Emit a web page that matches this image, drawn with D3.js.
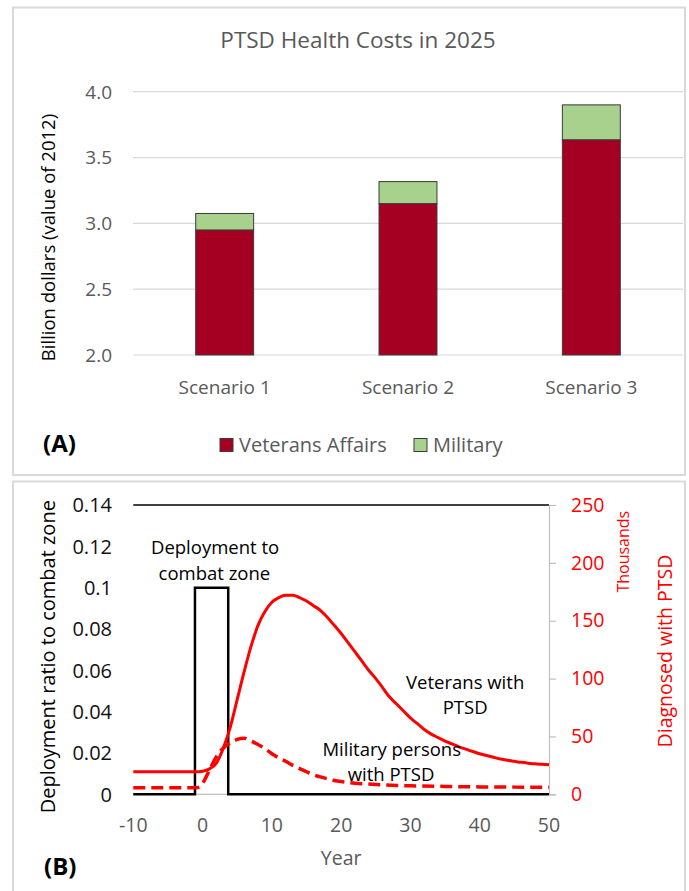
<!DOCTYPE html>
<html>
<head>
<meta charset="utf-8">
<script src="https://cdn.jsdelivr.net/npm/d3@7"></script>
<style>
  html, body { margin: 0; padding: 0; background: #fff; }
  svg { display: block; font-family: "Open Sans", sans-serif; }
</style>
</head>
<body>
<svg id="chart" width="689" height="891"></svg>
<script>
// ---------- Panel A data ----------
const scenarios = ["Scenario 1", "Scenario 2", "Scenario 3"];
const veteransAffairs = [2.95, 3.15, 3.635];
const military = [0.125, 0.167, 0.265];
const costTicks = [2.0, 2.5, 3.0, 3.5, 4.0];
const costTickLabels = ["2.0", "2.5", "3.0", "3.5", "4.0"];
const legendLabels = ["Veterans Affairs", "Military"];

// ---------- Panel B data ----------
const deployYears = [-10, -1.1, -1.1, 3.7, 3.7, 50];
const deployRatio = [0, 0, 0.1, 0.1, 0, 0];

const vetYears = [-10, -5, -1, 0, 1, 2, 3, 4, 5, 6, 7, 8, 9, 10, 11, 12, 13, 14, 15, 16, 17, 18, 19, 20, 21, 22, 23, 24, 25, 26, 27, 28, 29, 30, 31, 32, 33, 34, 35, 36, 37, 38, 39, 40, 41, 42, 43, 44, 45, 46, 47, 48, 49, 50];
const vetPTSD = [19.5, 19.5, 19.5, 20, 22, 27, 40, 58, 82, 106, 128, 146, 158, 166, 170, 172, 172, 170, 167, 163, 159, 153, 146, 139, 131, 123, 115, 107, 100, 92, 84, 78, 72, 66, 61, 56, 52, 49, 46, 43.5, 41, 39, 37, 35, 33.5, 32, 30.5, 29.4, 28.5, 27.6, 26.9, 26.3, 25.9, 25.5];

const milYears = [-10, -5, -1, -0.5, 0, 1, 2, 3, 4, 5, 6, 7, 8, 9, 10, 11, 12, 13, 14, 15, 16, 17, 18, 19, 20, 21, 22, 24, 26, 28, 30, 35, 40, 45, 50];
const milPTSD = [5.7, 5.7, 5.7, 6.3, 9.5, 21, 32.5, 40, 44.5, 47.5, 48.5, 46, 43, 39.5, 35, 31.5, 28.5, 25, 22.2, 19.5, 17, 15, 13.5, 12, 11, 10.3, 9.6, 8.8, 8.2, 7.7, 7.3, 6.8, 6.4, 6.2, 6.0];

const yearTicks = [-10, 0, 10, 20, 30, 40, 50];
const ratioTicks = [0, 0.02, 0.04, 0.06, 0.08, 0.1, 0.12, 0.14];
const ratioTickLabels = ["0", "0.02", "0.04", "0.06", "0.08", "0.1", "0.12", "0.14"];
const thousandTicks = [0, 50, 100, 150, 200, 250];

const svg = d3.select("#chart");
const GRAY = "#595959";
const RED_BAR = "#a50021";
const GREEN_BAR = "#a9d18e";
const RED = "#ff0000";

// ================= PANEL A =================
svg.append("rect").attr("x", 13).attr("y", 7.5).attr("width", 672).attr("height", 467.5)
  .attr("fill", "#fff").attr("stroke", "#d9d9d9").attr("stroke-width", 2);

const gA = svg.append("g");
const xA = d3.scaleBand().domain(scenarios).range([133, 683]).paddingInner(0.684).paddingOuter(0.342);
const yA = d3.scaleLinear().domain([2, 4]).range([355, 91.7]);

// gridlines
gA.append("g").selectAll("line").data(costTicks).join("line")
  .attr("x1", 133).attr("x2", 683)
  .attr("y1", d => yA(d)).attr("y2", d => yA(d))
  .attr("stroke", "#d9d9d9").attr("stroke-width", 1.2);

// y tick labels
gA.append("g").selectAll("text").data(costTicks).join("text")
  .attr("x", 112).attr("y", d => yA(d)).attr("dy", "0.36em")
  .attr("text-anchor", "end").attr("fill", GRAY).attr("font-size", 19)
  .text((d, i) => costTickLabels[i]);

// bars
const stackData = scenarios.map((s, i) => ({ s, va: veteransAffairs[i], mil: military[i] }));
gA.append("g").selectAll("rect.va").data(stackData).join("rect")
  .attr("x", d => xA(d.s)).attr("width", xA.bandwidth())
  .attr("y", d => yA(d.va)).attr("height", d => yA(2) - yA(d.va))
  .attr("fill", RED_BAR).attr("stroke", "#3a3a3a").attr("stroke-width", 1);
gA.append("g").selectAll("rect.mil").data(stackData).join("rect")
  .attr("x", d => xA(d.s)).attr("width", xA.bandwidth())
  .attr("y", d => yA(d.va + d.mil)).attr("height", d => yA(d.va) - yA(d.va + d.mil))
  .attr("fill", GREEN_BAR).attr("stroke", "#3a3a3a").attr("stroke-width", 1);

// category labels
gA.append("g").selectAll("text").data(scenarios).join("text")
  .attr("x", d => xA(d) + xA.bandwidth() / 2).attr("y", 387).attr("dy", "0.36em")
  .attr("text-anchor", "middle").attr("fill", GRAY).attr("font-size", 19)
  .text(d => d);

// title
svg.append("text").attr("x", 358).attr("y", 48).attr("text-anchor", "middle")
  .attr("fill", GRAY).attr("font-size", 22.5).text("PTSD Health Costs in 2025");

// y title
svg.append("text").attr("transform", "translate(48,237.5) rotate(-90)")
  .attr("text-anchor", "middle").attr("dy", "0.36em").attr("fill", "#000")
  .attr("font-size", 18.5).text("Billion dollars (value of 2012)");

// legend
const legendX = [220, 414];
const legendColors = [RED_BAR, GREEN_BAR];
legendLabels.forEach((lab, i) => {
  svg.append("rect").attr("x", legendX[i]).attr("y", 438.5).attr("width", 13).attr("height", 13)
    .attr("fill", legendColors[i]).attr("stroke", "#3a3a3a").attr("stroke-width", 1);
  svg.append("text").attr("x", legendX[i] + 19).attr("y", 445).attr("dy", "0.36em")
    .attr("fill", GRAY).attr("font-size", 20).text(lab);
});

svg.append("text").attr("x", 43).attr("y", 443).attr("dy", "0.36em")
  .attr("font-weight", "bold").attr("font-size", 24).attr("fill", "#000").text("(A)");

// ================= PANEL B =================
svg.append("rect").attr("x", 13).attr("y", 481.5).attr("width", 672).attr("height", 420)
  .attr("fill", "#fff").attr("stroke", "#d9d9d9").attr("stroke-width", 2);

const gB = svg.append("g");
const xB = d3.scaleLinear().domain([-10, 50]).range([133.3, 549]);
const yL = d3.scaleLinear().domain([0, 0.14]).range([794.3, 505]);
const yR = d3.scaleLinear().domain([0, 250]).range([794.3, 505]);

// top border line
gB.append("line").attr("x1", xB(-10)).attr("x2", xB(50)).attr("y1", yL(0.14)).attr("y2", yL(0.14))
  .attr("stroke", "#000").attr("stroke-width", 1.3);
// x axis line (gray)
gB.append("line").attr("x1", xB(-10)).attr("x2", xB(50)).attr("y1", yL(0)).attr("y2", yL(0))
  .attr("stroke", "#bfbfbf").attr("stroke-width", 1.2);

// right axis
const rightAxis = d3.axisRight(yR).tickValues(thousandTicks).tickSize(7).tickPadding(15).tickFormat(d3.format("d"));
const gRight = gB.append("g").attr("transform", `translate(${xB(50)},0)`).call(rightAxis);
gRight.select(".domain").attr("stroke", "#bfbfbf").attr("stroke-width", 1.2);
gRight.selectAll(".tick line").attr("stroke", "#bfbfbf").attr("stroke-width", 1.2);
gRight.selectAll(".tick text").attr("fill", RED).attr("font-size", 19.5)
  .attr("font-family", "Open Sans, sans-serif");

// left tick labels
gB.append("g").selectAll("text").data(ratioTicks).join("text")
  .attr("x", 112).attr("y", d => yL(d)).attr("dy", "0.36em")
  .attr("text-anchor", "end").attr("fill", "#111").attr("font-size", 20)
  .text((d, i) => ratioTickLabels[i]);

// x tick labels
gB.append("g").selectAll("text").data(yearTicks).join("text")
  .attr("x", d => xB(d)).attr("y", 825).attr("dy", "0.36em")
  .attr("text-anchor", "middle").attr("fill", GRAY).attr("font-size", 19.5)
  .text(d => d);

// axis titles
svg.append("text").attr("x", (xB(-10) + xB(50)) / 2).attr("y", 858).attr("dy", "0.36em")
  .attr("text-anchor", "middle").attr("fill", GRAY).attr("font-size", 19.5).text("Year");
svg.append("text").attr("transform", "translate(48,656.7) rotate(-90)")
  .attr("text-anchor", "middle").attr("dy", "0.36em").attr("fill", "#000")
  .attr("font-size", 20).text("Deployment ratio to combat zone");
svg.append("text").attr("transform", "translate(623,551.7) rotate(-90)")
  .attr("text-anchor", "middle").attr("dy", "0.36em").attr("fill", RED)
  .attr("font-size", 16).text("Thousands");
svg.append("text").attr("transform", "translate(665,651) rotate(-90)")
  .attr("text-anchor", "middle").attr("dy", "0.36em").attr("fill", RED)
  .attr("font-size", 19.5).text("Diagnosed with PTSD");

// series
const deploy = deployYears.map((y, i) => [y, deployRatio[i]]);
gB.append("path").datum(deploy)
  .attr("d", d3.line().x(d => xB(d[0])).y(d => yL(d[1])))
  .attr("fill", "none").attr("stroke", "#000").attr("stroke-width", 2.5);

const vet = vetYears.map((y, i) => [y, vetPTSD[i]]);
gB.append("path").datum(vet)
  .attr("d", d3.line().curve(d3.curveMonotoneX).x(d => xB(d[0])).y(d => yR(d[1])))
  .attr("fill", "none").attr("stroke", RED).attr("stroke-width", 3);

const mil = milYears.map((y, i) => [y, milPTSD[i]]);
gB.append("path").datum(mil)
  .attr("d", d3.line().curve(d3.curveMonotoneX).x(d => xB(d[0])).y(d => yR(d[1])))
  .attr("fill", "none").attr("stroke", RED).attr("stroke-width", 3.5)
  .attr("stroke-dasharray", "12,6");

// annotations (text placed in data coordinates)
const annotations = [
  { t: "Deployment to", x: 1.8, y: 0.1193 },
  { t: "combat zone", x: 1.7, y: 0.1070 },
  { t: "Veterans with", x: 37.9, y: 0.0542 },
  { t: "PTSD", x: 37.9, y: 0.0421 },
  { t: "Military persons", x: 27.3, y: 0.0219 },
  { t: "with PTSD", x: 27.2, y: 0.0098 }
];
gB.append("g").selectAll("text").data(annotations).join("text")
  .attr("x", d => xB(d.x)).attr("y", d => yL(d.y)).attr("dy", "0.36em")
  .attr("text-anchor", "middle").attr("fill", "#000").attr("font-size", 18.5)
  .text(d => d.t);

svg.append("text").attr("x", 44).attr("y", 866).attr("dy", "0.36em")
  .attr("font-weight", "bold").attr("font-size", 24).attr("fill", "#000").text("(B)");
</script>
</body>
</html>
